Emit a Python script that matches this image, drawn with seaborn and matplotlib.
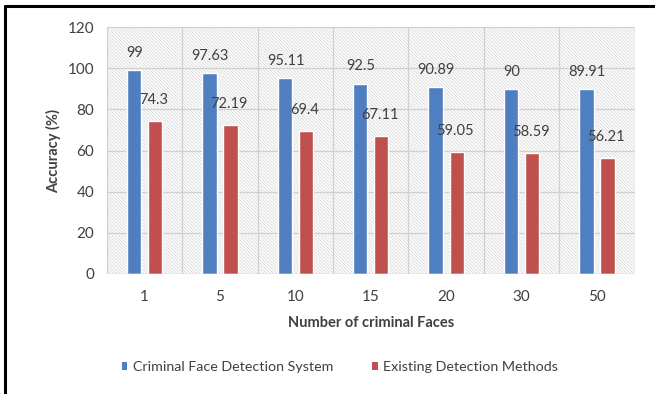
import matplotlib
matplotlib.use("Agg")
import matplotlib.pyplot as plt
import pandas as pd
import seaborn as sns
from matplotlib.lines import Line2D
from matplotlib.patches import Patch, Rectangle

# Datos
faces = ["1", "5", "10", "15", "20", "30", "50"]
proposed = [99, 97.63, 95.11, 92.5, 90.89, 90, 89.91]
existing = [74.3, 72.19, 69.4, 67.11, 59.05, 58.59, 56.21]
series_names = ["Criminal Face Detection System", "Existing Detection Methods"]
y_ticks = [0, 20, 40, 60, 80, 100, 120]

colors = ["#4F7FC0", "#C0504D"]
text_color = "#404040"

sns.set_theme(style="white")
plt.rcParams["font.family"] = ["Lato", "DejaVu Sans"]
plt.rcParams["hatch.linewidth"] = 0.7

df = pd.DataFrame(
    {
        "faces": faces * 2,
        "accuracy": proposed + existing,
        "method": [series_names[0]] * len(faces) + [series_names[1]] * len(faces),
    }
)

fig = plt.figure(figsize=(6.55, 3.94), dpi=100)
ax = fig.add_axes([0.163, 0.305, 0.806, 0.626])

# Fondo rayado del área de trazado
ax.add_patch(
    Rectangle(
        (0, 0), 1, 1, transform=ax.transAxes, facecolor="white",
        edgecolor="#dedede", hatch="\\" * 10, linewidth=0, zorder=0,
    )
)

sns.barplot(
    data=df, x="faces", y="accuracy", hue="method", order=faces,
    hue_order=series_names, palette=colors, width=0.56, gap=0.32,
    saturation=1, legend=False, ax=ax, zorder=3,
)

ax.set_xlim(-0.5, len(faces) - 0.5)
ax.set_ylim(0, 120)
ax.set_yticks(y_ticks)

# Cuadrícula
for y in y_ticks[1:]:
    ax.axhline(y, color="#d0d0d0", linewidth=0.9, zorder=1)
for i in range(len(faces) + 1):
    ax.axvline(i - 0.5, color="#d0d0d0", linewidth=0.9, zorder=1)
ax.axhline(0, color="#c8c8c8", linewidth=1, zorder=4)

for s in ax.spines.values():
    s.set_visible(False)

# Etiquetas de valores
for i in range(len(faces)):
    ax.text(i - 0.13, proposed[i] + 5, f"{proposed[i]:g}", ha="center", va="bottom",
            fontsize=10.5, color=text_color, zorder=5)
    ax.text(i + 0.12, existing[i] + 7, f"{existing[i]:g}", ha="center", va="bottom",
            fontsize=10.5, color=text_color, zorder=5)

ax.tick_params(axis="both", length=0, labelsize=11, labelcolor=text_color)
ax.tick_params(axis="x", pad=12)
ax.tick_params(axis="y", pad=9)
ax.set_xlabel("Number of criminal Faces", fontsize=10.5, fontweight="bold",
              color=text_color, labelpad=8)
ax.set_ylabel("Accuracy (%)", fontsize=10.5, fontweight="bold", color=text_color,
              labelpad=5)

handles = [Patch(facecolor=c, edgecolor="none") for c in colors]
fig.legend(
    handles, series_names, loc="center", bbox_to_anchor=(0.519, 0.068), ncol=2,
    frameon=False, fontsize=10.3, handlelength=0.4, handleheight=0.55,
    handletextpad=0.4, columnspacing=2.7, labelcolor=text_color,
)

# Borde del recuadro
fig.add_artist(Line2D([5 / 655, 5 / 655], [0, 1 - 6 / 394], color="black", linewidth=2.2))
fig.add_artist(Line2D([5 / 655, 1], [1 - 6 / 394, 1 - 6 / 394], color="black", linewidth=2.2))

fig.savefig("out.png", dpi=100)
